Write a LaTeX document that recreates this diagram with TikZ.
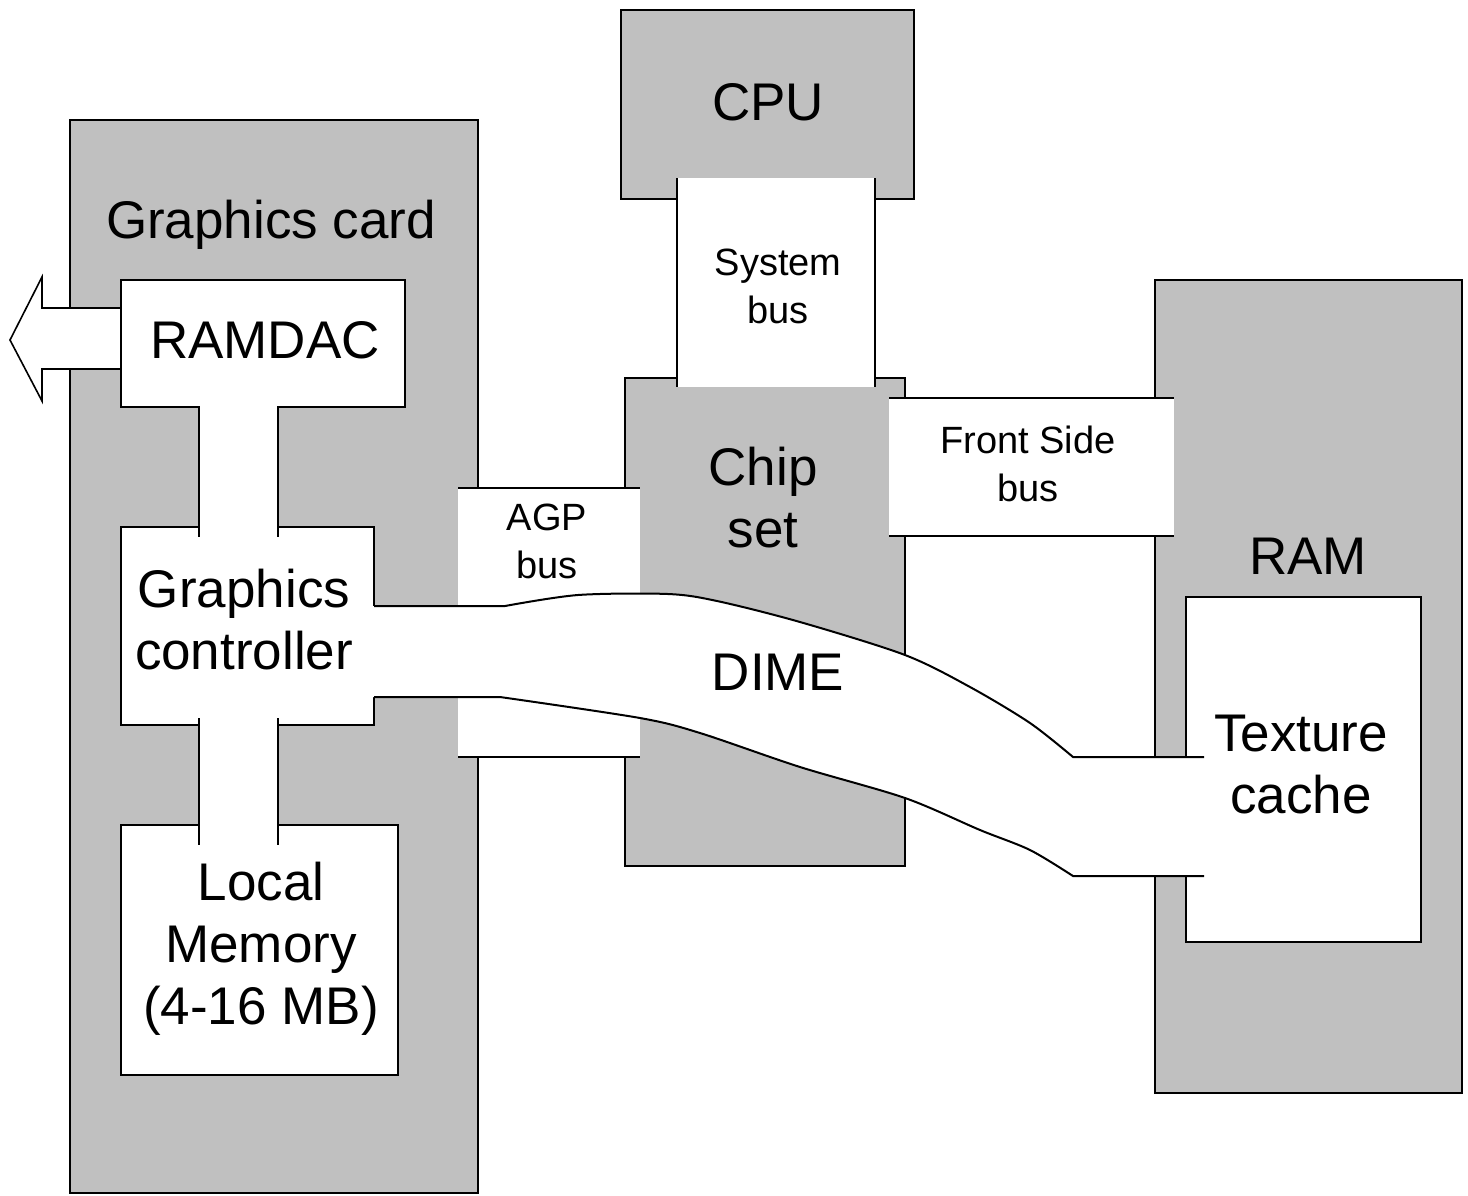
\documentclass[tikz,border=0pt]{standalone}
\usepackage{fontspec}
\setmainfont{Liberation Sans}
\definecolor{boxgray}{HTML}{C0C0C0}
\begin{document}
\begin{tikzpicture}[x=1pt,y=-1pt,
  line width=2pt, line join=miter,
  graybox/.style={draw=black, fill=boxgray, inner sep=0pt, outer sep=0pt, anchor=north west},
  whitebox/.style={draw=black, fill=white, inner sep=0pt, outer sep=0pt, anchor=north west},
  bigtxt/.style={font=\fontsize{53}{62}\selectfont, inner sep=0pt, align=center},
  smalltxt/.style={font=\fontsize{38}{48}\selectfont, inner sep=0pt, align=center},
  busfill/.style={fill=white, draw=none},
  busline/.style={draw=black, line width=2pt},
  outarrow/.style={draw=black, fill=white, line width=1.6pt},
]
\fill[white] (0,0) rectangle (1468,1195);
\useasboundingbox (0,0) rectangle (1468,1195);

% gray units
\node[graybox, minimum width=408pt, minimum height=1073pt] (card) at (70,120) {};
\node[graybox, minimum width=293pt, minimum height=189pt] (cpu) at (621,10) {};
\node[graybox, minimum width=280pt, minimum height=488pt] (chipset) at (625,378) {};
\node[graybox, minimum width=307pt, minimum height=813pt] (ram) at (1155,280) {};

% output arrow of the RAMDAC
\draw[outarrow] (121,308) -- (42,308) -- (42,277) -- (10,340) -- (42,401) -- (42,369) -- (121,369) -- cycle;

% white components
\node[whitebox, minimum width=284pt, minimum height=127pt] (ramdac) at (121,280) {};
\node[whitebox, minimum width=253pt, minimum height=198pt] (gctrl) at (121,527) {};
\node[whitebox, minimum width=277pt, minimum height=250pt] (lmem) at (121,825) {};
\node[whitebox, minimum width=235pt, minimum height=345pt] (tcache) at (1186,597) {};

% internal channels of the graphics card
\fill[white] (200,405) rectangle (277,537);
\draw[busline] (199,407) -- (199,537);
\draw[busline] (278,407) -- (278,537);
\fill[white] (200,718) rectangle (277,845);
\draw[busline] (199,718) -- (199,845);
\draw[busline] (278,718) -- (278,845);

% AGP bus
\fill[busfill] (458,488) rectangle (640,757);
\draw[busline] (458,488) -- (640,488);
\draw[busline] (458,757) -- (640,757);

% System bus
\fill[busfill] (677,178) rectangle (875,387);
\draw[busline] (677,178) -- (677,387);
\draw[busline] (875,178) -- (875,387);

% Front Side bus
\fill[busfill] (889,398) rectangle (1174,536);
\draw[busline] (889,398) -- (1174,398);
\draw[busline] (889,536) -- (1174,536);

% DIME band
\fill[busfill] (372,606) -- (505,606) -- plot[smooth] coordinates {(505,606) (578,595) (668,594) (717,601) (800,622) (905,655) (970,687) (1030,723) (1073,757)}
   -- (1204,757) -- (1204,876) -- (1073,876)
   -- plot[smooth] coordinates {(1073,876) (1030,850) (980,830) (905,798) (800,767) (700,733) (640,718) (500,697)}
   -- (372,697) -- cycle;
\draw[busline] (374,606) -- (505,606) -- plot[smooth] coordinates {(505,606) (578,595) (668,594) (717,601) (800,622) (905,655) (970,687) (1030,723) (1073,757)} -- (1204,757);
\draw[busline] (374,697) -- (500,697) -- plot[smooth] coordinates {(500,697) (640,718) (700,733) (800,767) (905,798) (980,830) (1030,850) (1073,876)} -- (1204,876);

% labels
\node[bigtxt, anchor=base] (tcard) at (271,238) {Graphics card};
\node[bigtxt, anchor=base] (tcpu) at (768,120) {CPU};
\node[bigtxt, anchor=base] (tramdac) at (265,358) {RAMDAC};
\node[bigtxt] (tgc) at (244,620) {Graphics\\controller};
\node[bigtxt] (tlm) at (261,949) {Local\\Memory\\(4-16 MB)};
\node[bigtxt] (tchip) at (763,498) {Chip\\set};
\node[bigtxt, anchor=base] (tdime) at (778,690) {DIME};
\node[bigtxt, anchor=base] (tram) at (1308,574) {RAM};
\node[bigtxt] (ttex) at (1301,765) {Texture\\cache};
\node[smalltxt] (tsys) at (778,286) {System\\bus};
\node[smalltxt] (tagp) at (547,541) {AGP\\bus};
\node[smalltxt] (tfsb) at (1028,464) {Front Side\\bus};
\end{tikzpicture}
\end{document}
